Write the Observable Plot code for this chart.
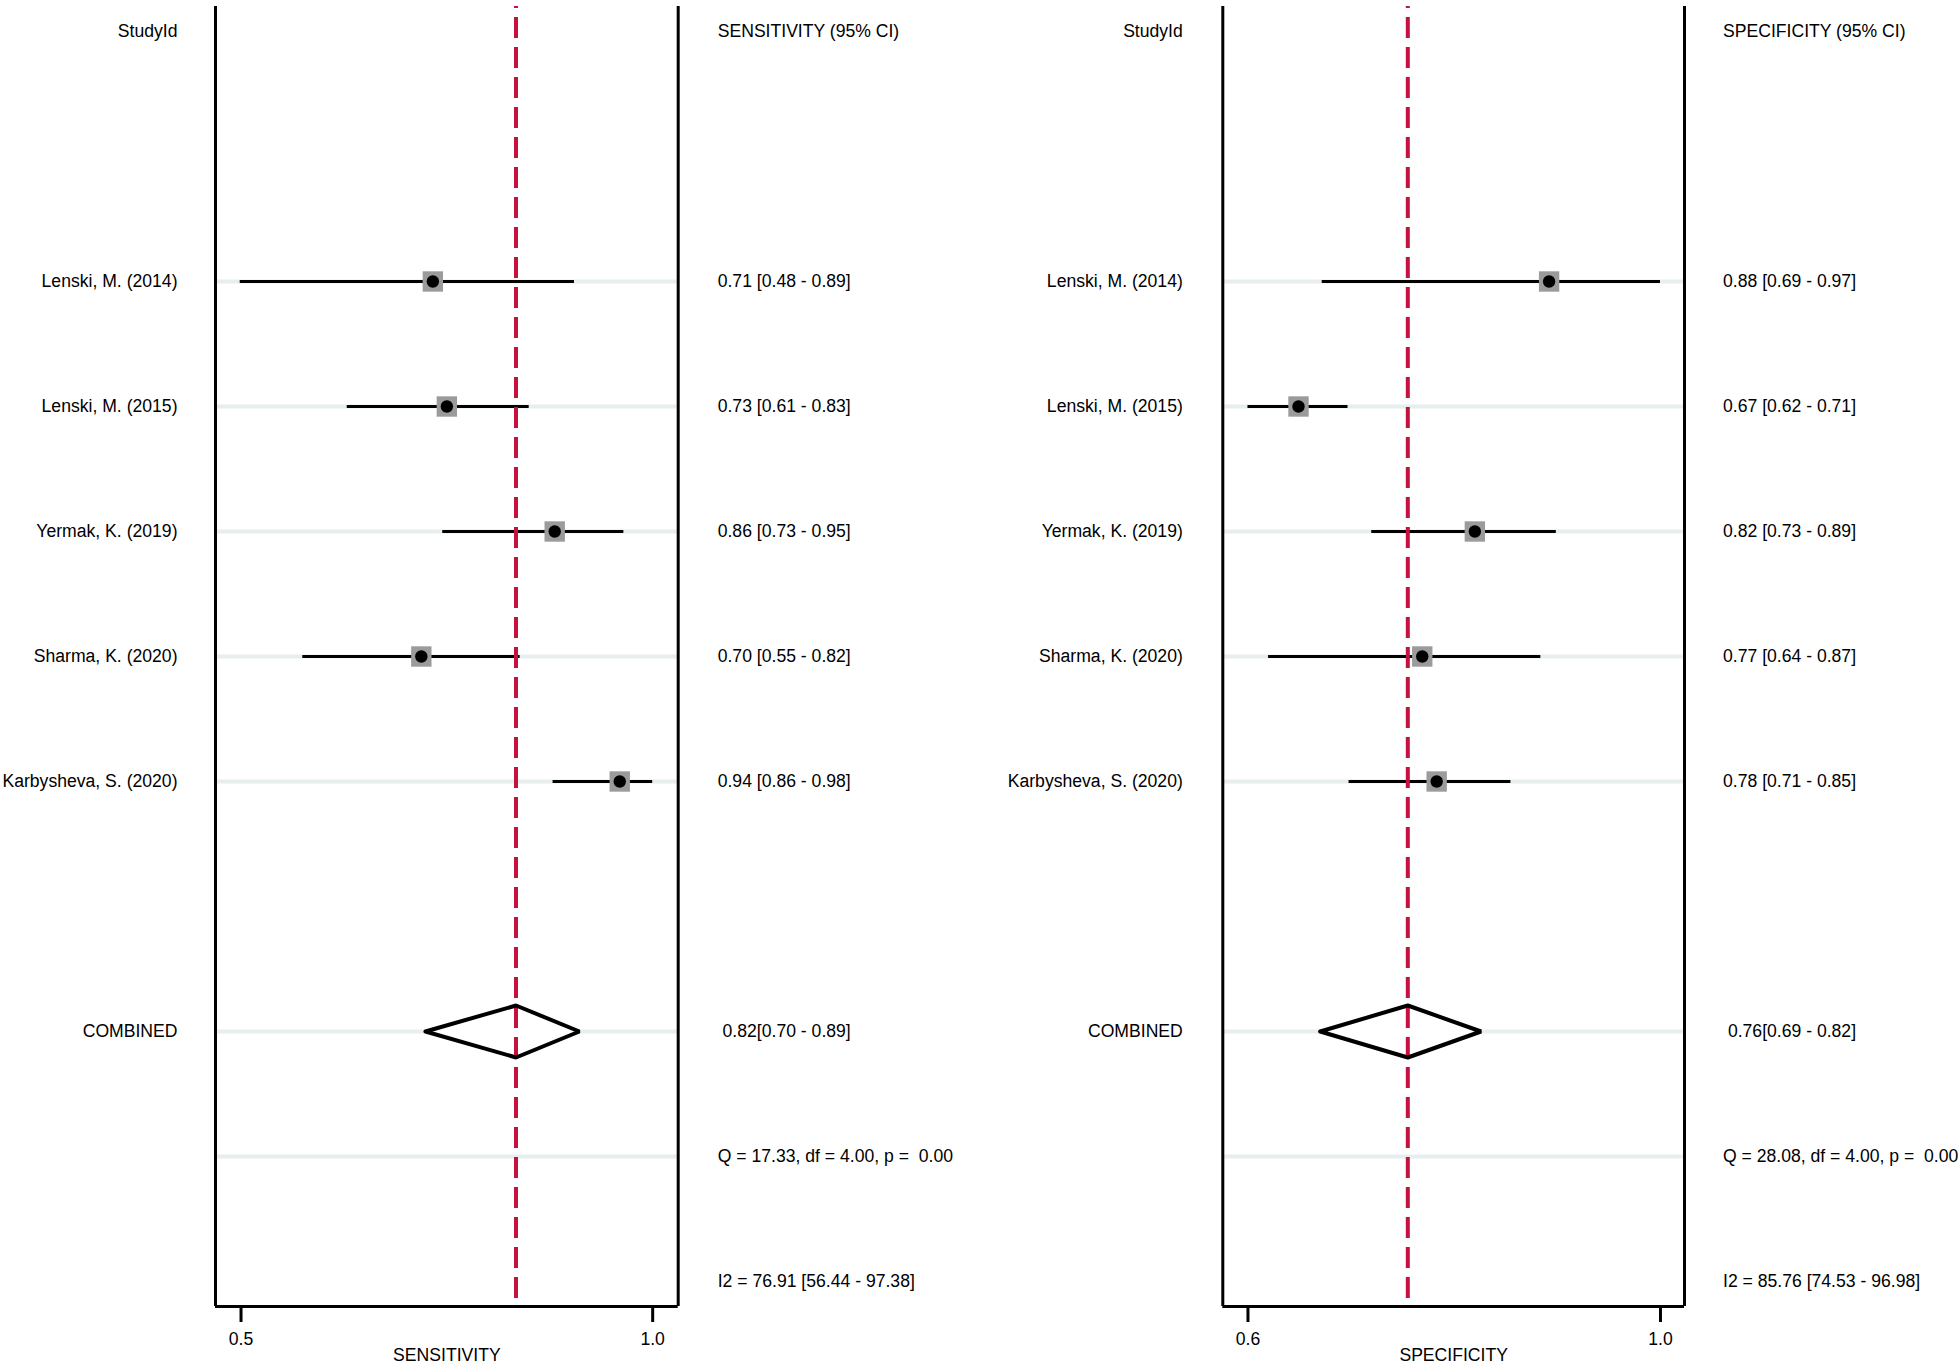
<!DOCTYPE html>
<html>
<head>
<meta charset="utf-8">
<script src="https://cdn.jsdelivr.net/npm/d3@7"></script>
<script src="https://cdn.jsdelivr.net/npm/@observablehq/plot@0.6"></script>
<style>
  html, body { margin: 0; padding: 0; background: #fff; }
  #chart { position: relative; width: 1960px; height: 1368px; overflow: hidden; background: #fff; }
  #chart .panel { position: absolute; top: 0; }
</style>
</head>
<body>
<div id="chart"></div>
<script>
// ---------- data ----------
const studies = ["Lenski, M. (2014)", "Lenski, M. (2015)", "Yermak, K. (2019)", "Sharma, K. (2020)", "Karbysheva, S. (2020)"];
const studyRows = [2, 3, 4, 5, 6];
const pooledRow = 8, qRow = 9, i2Row = 10, headerRow = 0;

// Sensitivity (positions as drawn)
const sensEst  = [0.733, 0.750, 0.881, 0.719, 0.960];
const sensLow  = [0.499, 0.629, 0.745, 0.575, 0.879];
const sensHigh = [0.905, 0.850, 0.965, 0.839, 1.000];
const sensPooled = [0.834, 0.724, 0.911]; // est, low, high
const sensLabels = ["0.71 [0.48 - 0.89]", "0.73 [0.61 - 0.83]", "0.86 [0.73 - 0.95]", "0.70 [0.55 - 0.82]", "0.94 [0.86 - 0.98]"];
const sensPooledLabel = "\u00a00.82[0.70 - 0.89]";
const sensQ = "Q = 17.33, df = 4.00, p =\u00a0 0.00";
const sensI2 = "I2 = 76.91 [56.44 - 97.38]";
const sensTicks = [0.5, 1.0];

// Specificity (positions as drawn)
const specEst  = [0.892, 0.649, 0.820, 0.769, 0.783];
const specLow  = [0.672, 0.600, 0.720, 0.620, 0.698];
const specHigh = [1.000, 0.697, 0.899, 0.884, 0.855];
const specPooled = [0.755, 0.670, 0.826];
const specLabels = ["0.88 [0.69 - 0.97]", "0.67 [0.62 - 0.71]", "0.82 [0.73 - 0.89]", "0.77 [0.64 - 0.87]", "0.78 [0.71 - 0.85]"];
const specPooledLabel = "\u00a00.76[0.69 - 0.82]";
const specQ = "Q = 28.08, df = 4.00, p =\u00a0 0.00";
const specI2 = "I2 = 85.76 [74.53 - 96.98]";
const specTicks = [0.6, 1.0];

// ---------- drawing ----------
const FONT = "'Liberation Sans', Arial, Helvetica, sans-serif";
const RED = "#c4123f";

function panel(cfg) {
  const rows = studies.map((s, i) => ({
    row: studyRows[i], name: s, est: cfg.est[i], low: cfg.low[i], high: cfg.high[i]
  }));
  const [pe, pl, ph] = cfg.pooled;
  const h = 0.208;
  const diamondFill = [
    {y: pooledRow - h, x1: pe, x2: pe},
    {y: pooledRow, x1: pl, x2: ph},
    {y: pooledRow + h, x1: pe, x2: pe}
  ];
  const diamondLine = [
    {x: pl, y: pooledRow}, {x: pe, y: pooledRow - h}, {x: ph, y: pooledRow},
    {x: pe, y: pooledRow + h}, {x: pl, y: pooledRow}
  ];
  const leftText = [{row: headerRow, text: "StudyId"}, ...rows.map(r => ({row: r.row, text: r.name})), {row: pooledRow, text: "COMBINED"}];
  const rightText = [
    {row: headerRow, text: cfg.header},
    ...rows.map((r, i) => ({row: r.row, text: cfg.labels[i]})),
    {row: pooledRow, text: cfg.pooledLabel},
    {row: qRow, text: cfg.q},
    {row: i2Row, text: cfg.i2}
  ];
  const bandRows = [...studyRows, pooledRow, qRow];
  const yDomain = [-0.2, 10.2];

  return Plot.plot({
    width: 980,
    height: 1368,
    marginLeft: cfg.marginLeft,
    marginRight: cfg.marginRight,
    marginTop: 6,
    marginBottom: 62,
    x: {domain: cfg.domain, label: null},
    y: {domain: yDomain, reverse: true, axis: null},
    style: {fontFamily: FONT, fontSize: "17.6px", color: "#000", background: "transparent", overflow: "visible"},
    marks: [
      Plot.ruleY(bandRows, {stroke: "#e8eeee", strokeWidth: 4}),
      Plot.areaX(diamondFill, {y: "y", x1: "x1", x2: "x2", fill: "white"}),
      Plot.ruleY(rows, {y: "row", x1: "low", x2: "high", stroke: "black", strokeWidth: 3}),
      Plot.ruleX([pe], {stroke: RED, strokeWidth: 4, strokeDasharray: "21,9", strokeDashoffset: 19}),
      Plot.line(diamondLine, {x: "x", y: "y", stroke: "black", strokeWidth: 4, strokeLinejoin: "miter"}),
      Plot.dot(rows, {x: "est", y: "row", symbol: "square", r: 11.5, fill: "#9b9b9b", stroke: "none"}),
      Plot.dot(rows, {x: "est", y: "row", r: 6.2, fill: "black", stroke: "none"}),
      Plot.ruleX([cfg.domain[0], cfg.domain[1]], {stroke: "black", strokeWidth: 3}),
      Plot.ruleY([yDomain[1]], {stroke: "black", strokeWidth: 3}),
      Plot.axisX({ticks: cfg.ticks, tickFormat: ".1f", tickSize: 16, tickPadding: 10, strokeWidth: 3, label: null}),
      Plot.text([cfg.axisLabel], {frameAnchor: "bottom", text: d => d, dy: 49, lineAnchor: "middle", fill: "black"}),
      Plot.text(leftText, {y: "row", text: "text", frameAnchor: "left", textAnchor: "end", dx: cfg.leftDx, fill: "black"}),
      Plot.text(rightText, {y: "row", text: "text", frameAnchor: "right", textAnchor: "start", dx: cfg.rightDx, fill: "black"})
    ]
  });
}

const chart = document.getElementById("chart");

const left = panel({
  est: sensEst, low: sensLow, high: sensHigh, pooled: sensPooled,
  labels: sensLabels, pooledLabel: sensPooledLabel, q: sensQ, i2: sensI2,
  header: "SENSITIVITY (95% CI)", axisLabel: "SENSITIVITY", ticks: sensTicks,
  domain: [0.469, 1.031], marginLeft: 215, marginRight: 302.3, leftDx: -38, rightDx: 39.5
});
left.classList.add("panel");
left.style.left = "0px";
chart.appendChild(left);

const right = panel({
  est: specEst, low: specLow, high: specHigh, pooled: specPooled,
  labels: specLabels, pooledLabel: specPooledLabel, q: specQ, i2: specI2,
  header: "SPECIFICITY (95% CI)", axisLabel: "SPECIFICITY", ticks: specTicks,
  domain: [0.5756, 1.0233], marginLeft: 242.3, marginRight: 276, leftDx: -40, rightDx: 38.5
});
right.classList.add("panel");
right.style.left = "980px";
chart.appendChild(right);
</script>
</body>
</html>
